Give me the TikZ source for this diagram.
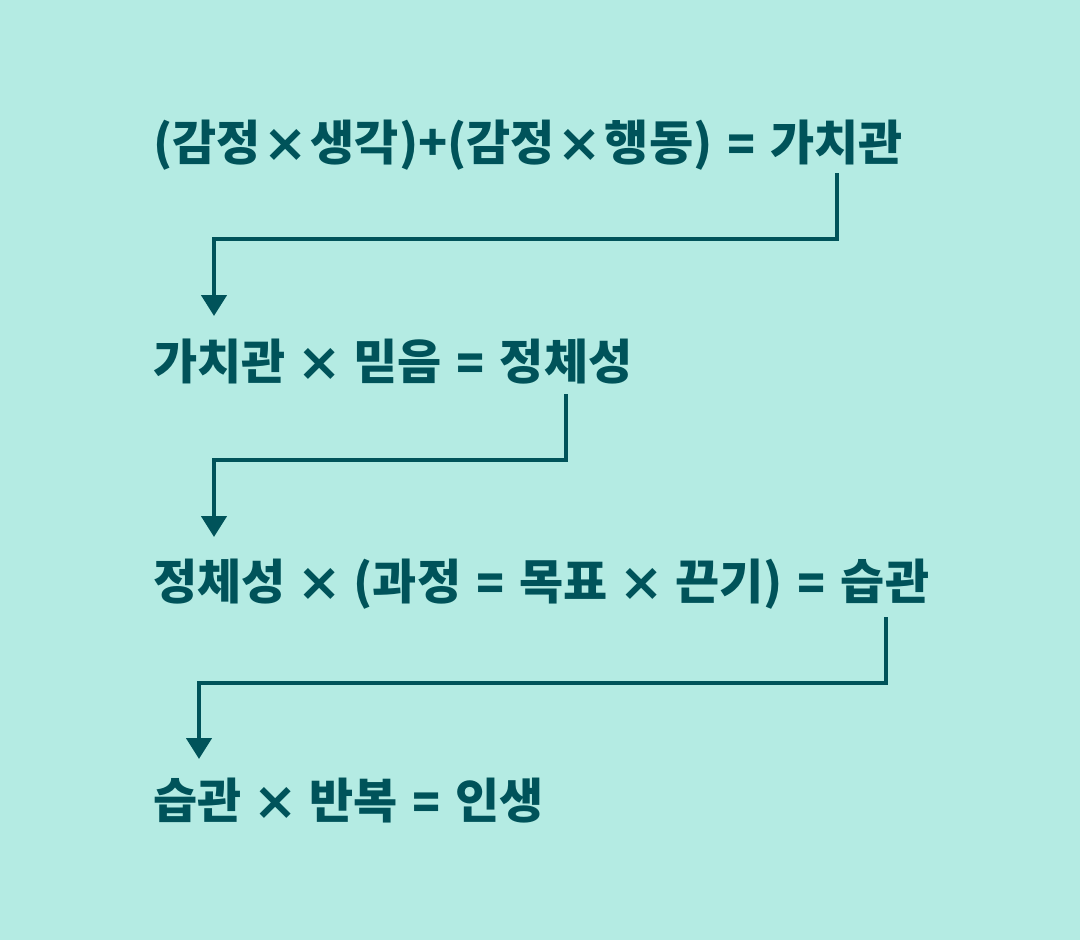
\documentclass[tikz,border=0pt]{standalone}
\usepackage{fontspec}
\usepackage{graphicx}
\newfontfamily\kr{Noto Sans CJK KR}
\newfontfamily\lat{DejaVu Sans}
\newcommand{\mxw}[1]{\makebox[#1]{\raisebox{-1pt}{\scalebox{1.1}{\lat\bfseries ×}}}}
\newcommand{\mx}{\mxw{46pt}}
\newcommand{\meq}{\makebox[36pt]{\raisebox{-1pt}{\scalebox{0.8}[1.15]{\lat\bfseries =}}}}
\usetikzlibrary{arrows.meta}
\definecolor{bgc}{HTML}{B4EBE3}
\definecolor{ink}{HTML}{00535A}
\tikzset{
  line/.style={anchor=base west, inner sep=0pt, text=ink, font=\kr\bfseries\fontsize{48}{52}\selectfont},
  arr/.style={draw=ink, line width=4.5pt, -{Triangle[width=25pt,length=21pt]}}
}
\begin{document}
\begin{tikzpicture}[x=1pt,y=-1pt]
\fill[bgc] (0,0) rectangle (1080,940);
\useasboundingbox (0,0) rectangle (1080,940);
\node[line] (l1) at (153,160) {(감정\mxw{50pt}생각)+(감정\mxw{50pt}행동) \meq{} 가치관};
\node[line] (l2) at (153,379) {가치관 \mx{} 믿음 \meq{} 정체성};
\node[line] (l3) at (153,599) {정체성 \mx{} (과정 \meq{} 목표 \mx{} 끈기) \meq{} 습관};
\node[line] (l4) at (153,818) {습관 \mx{} 반복 \meq{} 인생};
\coordinate (a1s) at (837,173);
\coordinate (a1e) at (214,316);
\coordinate (a2s) at (566,394);
\coordinate (a2e) at (214,537);
\coordinate (a3s) at (886,617);
\coordinate (a3e) at (199,759);
\draw[arr] (a1s) -- ++(0,66) -| (a1e);
\draw[arr] (a2s) -- ++(0,66) -| (a2e);
\draw[arr] (a3s) -- ++(0,66) -| (a3e);
\end{tikzpicture}
\end{document}
